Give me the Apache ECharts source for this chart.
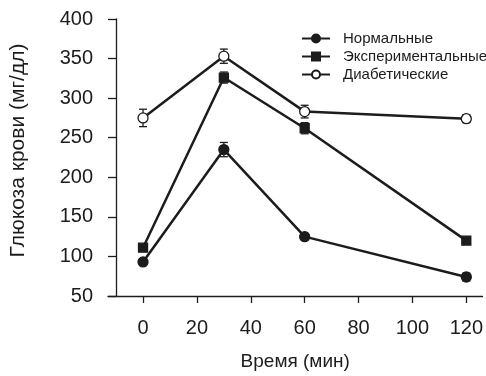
<!DOCTYPE html>
<html lang="ru">
<head>
<meta charset="UTF-8">
<title>Глюкоза крови</title>
<script src="https://cdn.jsdelivr.net/npm/echarts@6/dist/echarts.min.js"></script>
<style>
html, body { margin: 0; padding: 0; background: #fff; }
#chart { width: 486px; height: 376px; }
</style>
</head>
<body>
<div id="chart"></div>
<script>
// время, мин
const times = [0, 30, 60, 120];
const xTickLabels = [0, 20, 40, 60, 80, 100, 120];
const yTickLabels = [50, 100, 150, 200, 250, 300, 350, 400];

const seriesNames = ['Нормальные', 'Экспериментальные', 'Диабетические'];
const normalValues = [93, 235, 125, 74];
const normalErrors = [4, 9, 4, 5];
const expValues = [111, 326, 262, 120];
const expErrors = [3, 7, 7, 3];
const diabValues = [275, 353, 283, 274];
const diabErrors = [11, 9, 8, 5];

const ink = '#1c1c1c';
const font = '"Liberation Sans", Arial, sans-serif';

function pairs(vals) {
  return times.map((t, i) => [t, vals[i]]);
}
function errData(vals, errs) {
  return times.map((t, i) => [t, vals[i] - errs[i], vals[i] + errs[i]]);
}
function errorBars(vals, errs) {
  return {
    type: 'custom',
    z: 1,
    silent: true,
    data: errData(vals, errs),
    renderItem: function (params, api) {
      const lo = api.coord([api.value(0), api.value(1)]);
      const hi = api.coord([api.value(0), api.value(2)]);
      const w = 4;
      const st = { stroke: ink, lineWidth: 1.3 };
      return {
        type: 'group',
        children: [
          { type: 'line', shape: { x1: lo[0], y1: lo[1], x2: hi[0], y2: hi[1] }, style: st },
          { type: 'line', shape: { x1: lo[0] - w, y1: lo[1], x2: lo[0] + w, y2: lo[1] }, style: st },
          { type: 'line', shape: { x1: hi[0] - w, y1: hi[1], x2: hi[0] + w, y2: hi[1] }, style: st }
        ]
      };
    }
  };
}
function lineSeries(name, vals, symbol, fill) {
  return {
    name: name,
    type: 'line',
    z: 3,
    data: pairs(vals),
    symbol: symbol,
    symbolSize: symbol === 'rect' ? 9 : 10,
    lineStyle: { color: ink, width: 2.5 },
    itemStyle: { color: fill, borderColor: ink, borderWidth: 1.3 }
  };
}

const chart = echarts.init(document.getElementById('chart'));
chart.setOption({
  animation: false,
  grid: { left: 108, right: 0, top: 19, bottom: 80 },
  legend: {
    orient: 'vertical',
    left: 296,
    top: 26,
    itemWidth: 28,
    itemHeight: 10,
    itemGap: 3,
    data: seriesNames,
    textStyle: { fontFamily: font, fontSize: 15, color: ink, padding: [0, 0, 0, 8] }
  },
  xAxis: {
    type: 'value',
    min: -13,
    max: 126,
    name: 'Время (мин)',
    nameLocation: 'middle',
    nameGap: 56,
    nameTextStyle: { fontFamily: font, fontSize: 19, color: ink },
    splitLine: { show: false },
    axisLine: { onZero: false, lineStyle: { color: ink, width: 1.3 } },
    axisTick: { customValues: xTickLabels, length: 7, lineStyle: { color: ink, width: 1.3 } },
    axisLabel: { customValues: xTickLabels, margin: 22, fontFamily: font, fontSize: 20, color: ink }
  },
  yAxis: {
    type: 'value',
    min: 50,
    max: 400,
    interval: 50,
    offset: -8,
    name: 'Глюкоза крови (мг/дл)',
    nameLocation: 'middle',
    nameGap: 87,
    nameTextStyle: { fontFamily: font, fontSize: 21, color: ink, padding: [0, 0, 0, 14] },
    splitLine: { show: false },
    axisLine: { show: true, onZero: false, lineStyle: { color: ink, width: 1.3 } },
    axisTick: { show: true, length: 8, lineStyle: { color: ink, width: 1.3 } },
    axisLabel: { margin: 23, fontFamily: font, fontSize: 20, color: ink }
  },
  series: [
    errorBars(normalValues, normalErrors),
    errorBars(expValues, expErrors),
    errorBars(diabValues, diabErrors),
    lineSeries(seriesNames[0], normalValues, 'circle', ink),
    lineSeries(seriesNames[1], expValues, 'rect', ink),
    lineSeries(seriesNames[2], diabValues, 'circle', '#fff')
  ]
});
</script>
</body>
</html>
